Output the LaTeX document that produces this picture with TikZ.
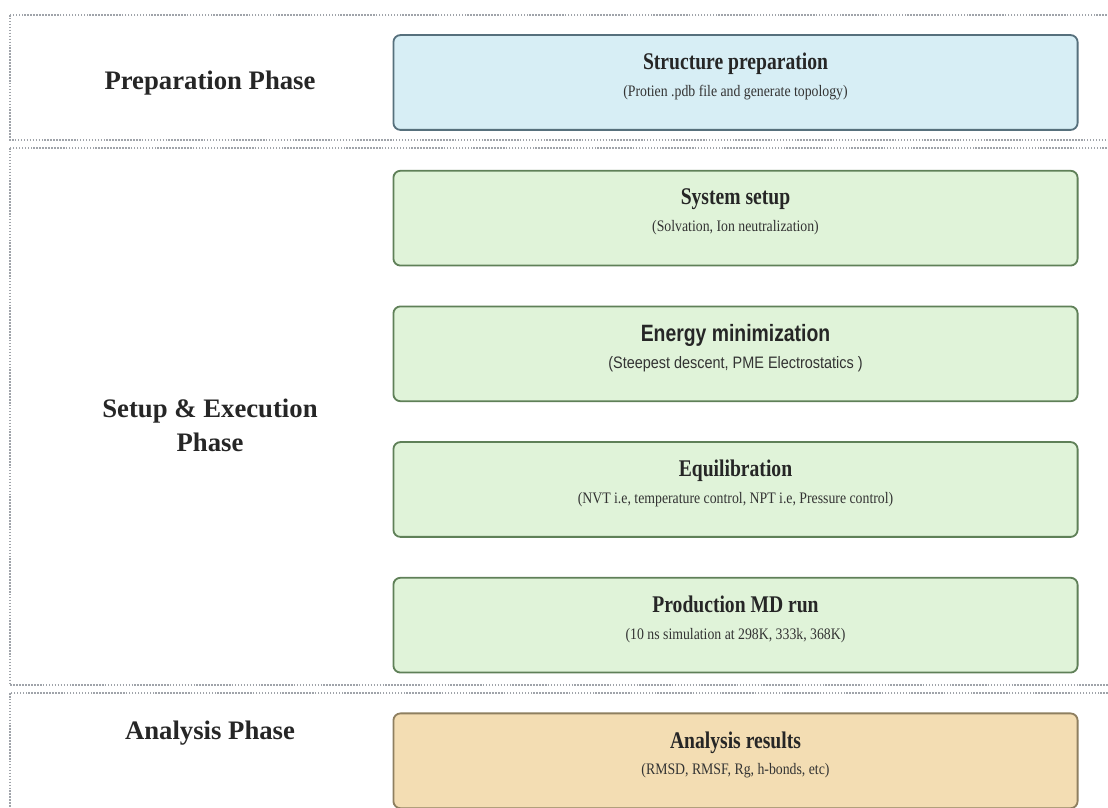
\documentclass[tikz,border=0pt]{standalone}
\usepackage{fontspec}
\setmainfont{Liberation Serif}
\newfontfamily\boxserif[FakeStretch=0.82]{Liberation Serif}
\newfontfamily\subserif[FakeStretch=0.86]{Liberation Serif}
\newfontfamily\boxsans[FakeStretch=0.82]{Liberation Sans}
\newfontfamily\subsans[FakeStretch=0.87]{Liberation Sans}
\usepackage{tikz}
\usetikzlibrary{positioning}
\definecolor{prepfill}{HTML}{D7EEF5}
\definecolor{prepline}{HTML}{56707C}
\definecolor{runfill}{HTML}{E0F3D9}
\definecolor{runline}{HTML}{5F8058}
\definecolor{anafill}{HTML}{F3DDB3}
\definecolor{analine}{HTML}{8E7F60}
\definecolor{framegray}{HTML}{A0A4AA}
\definecolor{subgray}{HTML}{333333}

\tikzset{
  procbox/.style={draw, rounded corners=5pt, line width=1.3pt,
    minimum width=17.1cm, minimum height=2.37cm, align=center,
    inner sep=0pt, text depth=11pt, text=black!85,
    font=\boxserif\fontsize{17}{19}\selectfont\bfseries},
  phaseframe/.style={draw=framegray, densely dotted, line width=1.1pt},
  phaselabel/.style={align=center, text=black!85,
    font=\fontsize{19}{24}\selectfont\bfseries}
}
\newcommand{\sublabel}[1]{\\[0pt]{\subserif\fontsize{11.4}{13}\selectfont\mdseries\color{subgray}#1}}
\newcommand{\subsanslabel}[1]{\\[0pt]{\subsans\fontsize{11.8}{13}\selectfont\mdseries\color{subgray}#1}}

\begin{document}
\begin{tikzpicture}[x=0.025cm, y=-0.025cm]
  \useasboundingbox (0,0) rectangle (1108,807);

  % Phase frames
  \draw[phaseframe] (10,15) rectangle (1120,140);
  \draw[phaseframe] (10,148) rectangle (1120,685);
  \draw[phaseframe] (10,693) rectangle (1120,820);

  \node[phaselabel] (lblprep) at (210,83) {Preparation Phase};
  \node[phaselabel] (lblsetup) at (210,425) {Setup \& Execution\\Phase};
  \node[phaselabel] (lblana) at (210,733) {Analysis Phase};

  % Workflow steps
  \node[procbox, fill=prepfill, draw=prepline] (prep) at (735.5,82.5)
    {Structure preparation\sublabel{(Protien .pdb file and generate topology)}};
  \node[procbox, fill=runfill, draw=runline, below=0.975cm of prep] (setup)
    {System setup\sublabel{(Solvation, Ion neutralization)}};
  \node[procbox, fill=runfill, draw=runline, below=0.975cm of setup,
        font=\boxsans\fontsize{16.8}{19}\selectfont\bfseries] (emin)
    {Energy minimization\subsanslabel{(Steepest descent, PME Electrostatics )}};
  \node[procbox, fill=runfill, draw=runline, below=0.975cm of emin] (equil)
    {Equilibration\sublabel{(NVT i.e, temperature control, NPT i.e, Pressure control)}};
  \node[procbox, fill=runfill, draw=runline, below=0.975cm of equil] (prod)
    {Production MD run\sublabel{(10 ns simulation at 298K, 333k, 368K)}};
  \node[procbox, fill=anafill, draw=analine, below=0.975cm of prod] (ana)
    {Analysis results\sublabel{(RMSD, RMSF, Rg, h-bonds, etc)}};
\end{tikzpicture}
\end{document}
